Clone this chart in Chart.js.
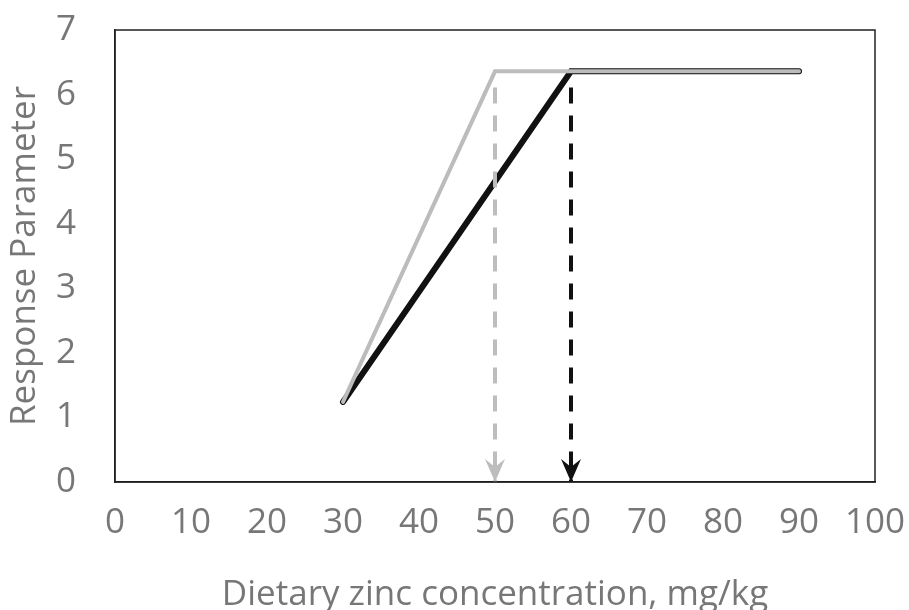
<!DOCTYPE html>
<html>
<head>
<meta charset="utf-8">
<script src="https://cdn.jsdelivr.net/npm/chart.js@4/dist/chart.umd.min.js"></script>
<style>
  html, body { margin: 0; padding: 0; background: #fff; }
  #wrap { width: 909px; height: 610px; }
</style>
</head>
<body>
<div id="wrap"><canvas id="chart" width="909" height="610"></canvas></div>
<script>
// zinc level (mg/kg) vs response
const blackX = [30, 60, 90];
const blackY = [1.24, 6.36, 6.36];
const grayX = [30, 50, 90];
const grayY = [1.24, 6.36, 6.36];
// breakpoint markers (dashed arrows)
const grayBreak = [50, 6.36];
const blackBreak = [60, 6.36];
const xTicks = [0, 10, 20, 30, 40, 50, 60, 70, 80, 90, 100];
const yTicks = [0, 1, 2, 3, 4, 5, 6, 7];

const pts = (xs, ys) => xs.map((x, i) => ({ x: x, y: ys[i] }));
const font = { family: "Open Sans", size: 35 };

// arrowheads at the bottom of the dashed lines + plot frame
const arrowPlugin = {
  id: "arrows",
  afterDatasetsDraw(chart) {
    const ctx = chart.ctx;
    chart.data.datasets.forEach((ds, i) => {
      if (!ds.arrow) return;
      const meta = chart.getDatasetMeta(i);
      const p = meta.data[meta.data.length - 1];
      ctx.save();
      ctx.fillStyle = ds.borderColor;
      ctx.beginPath();
      ctx.moveTo(p.x, p.y);
      ctx.lineTo(p.x - 10, p.y - 23);
      ctx.lineTo(p.x, p.y - 15);
      ctx.lineTo(p.x + 10, p.y - 23);
      ctx.closePath();
      ctx.fill();
      ctx.restore();
    });
    const a = chart.chartArea;
    ctx.save();
    ctx.strokeStyle = "#222";
    ctx.lineWidth = 1.5;
    ctx.strokeRect(a.left, a.top, a.right - a.left, a.bottom - a.top);
    ctx.restore();
  }
};

new Chart(document.getElementById("chart"), {
  type: "scatter",
  data: {
    // first dataset is drawn on top
    datasets: [
      {
        label: "gray break",
        data: [{ x: grayBreak[0], y: grayBreak[1] - 0.25 }, { x: grayBreak[0], y: 0 }],
        showLine: true,
        borderColor: "#bdbdbd",
        borderWidth: 4,
        borderDash: [16, 12],
        pointRadius: 0,
        arrow: true
      },
      {
        label: "black break",
        data: [{ x: blackBreak[0], y: blackBreak[1] - 0.25 }, { x: blackBreak[0], y: 0 }],
        showLine: true,
        borderColor: "#111",
        borderWidth: 4,
        borderDash: [16, 12],
        pointRadius: 0,
        arrow: true
      },
      {
        label: "gray",
        data: pts(grayX, grayY),
        showLine: true,
        borderColor: "#bcbcbc",
        borderWidth: 4,
        pointRadius: 0,
        borderCapStyle: "round"
      },
      {
        label: "black",
        data: pts(blackX, blackY),
        showLine: true,
        borderColor: "#111",
        borderWidth: 6,
        pointRadius: 0,
        borderCapStyle: "round"
      }
    ]
  },
  plugins: [arrowPlugin],
  options: {
    responsive: false,
    animation: false,
    layout: { padding: { top: 30, right: 34, left: 0, bottom: 0 } },
    plugins: {
      legend: { display: false },
      tooltip: { enabled: false }
    },
    scales: {
      x: {
        type: "linear",
        min: 0,
        max: 100,
        afterBuildTicks: (s) => { s.ticks = xTicks.map((v) => ({ value: v })); },
        afterFit: (s) => { s.height = 128; s.paddingLeft = 0; s.paddingRight = 0; },
        grid: { display: false, drawTicks: false },
        border: { display: true, color: "#111", width: 1.5 },
        ticks: { color: "#777", padding: 20, font: font },
        title: {
          display: true,
          text: "Dietary zinc concentration, mg/kg",
          color: "#777",
          padding: { top: 0, bottom: -6 },
          font: font
        }
      },
      y: {
        type: "linear",
        min: 0,
        max: 7,
        afterBuildTicks: (s) => { s.ticks = yTicks.map((v) => ({ value: v })); },
        afterFit: (s) => { s.width = 115; s.paddingTop = 0; s.paddingBottom = 0; },
        grid: { display: false, drawTicks: false },
        border: { display: true, color: "#222", width: 1.5 },
        ticks: { color: "#777", padding: 39, font: font },
        title: {
          display: true,
          text: "Response Parameter",
          color: "#777",
          padding: { top: 4 },
          font: font
        }
      }
    }
  }
});
</script>
</body>
</html>
